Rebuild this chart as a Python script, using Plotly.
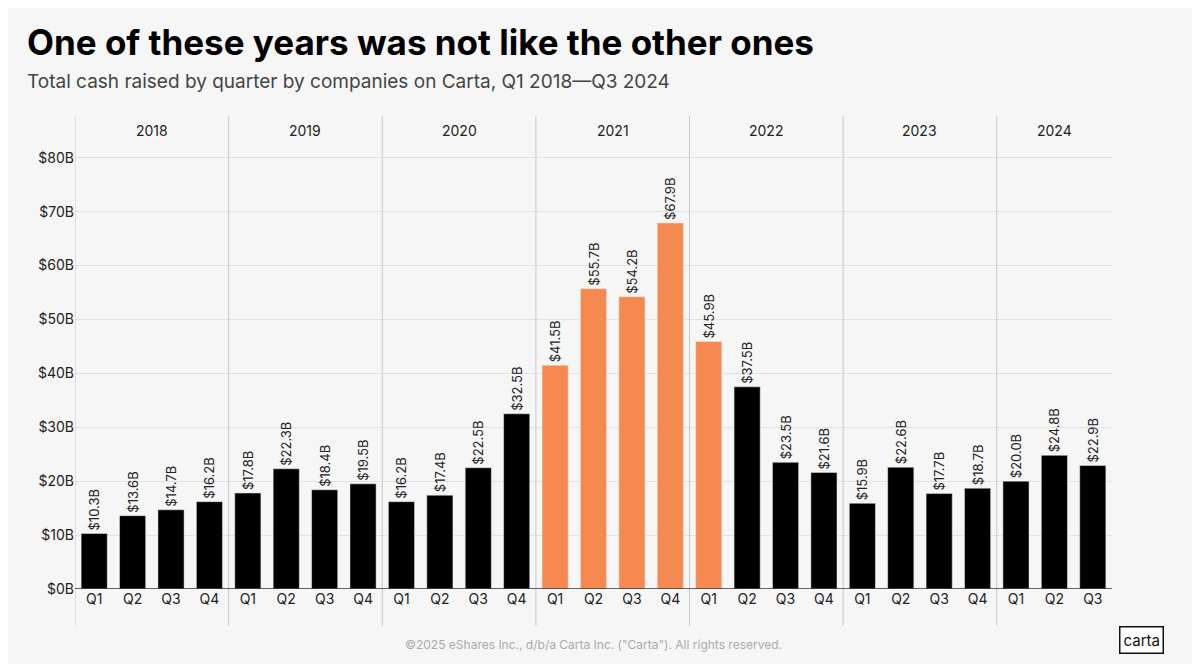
import plotly.graph_objects as go

years = ["2018"]*4 + ["2019"]*4 + ["2020"]*4 + ["2021"]*4 + ["2022"]*4 + ["2023"]*4 + ["2024"]*3
quarters = ["Q1","Q2","Q3","Q4"]*6 + ["Q1","Q2","Q3"]
values = [10.3,13.6,14.7,16.2, 17.8,22.3,18.4,19.5, 16.2,17.4,22.5,32.5,
          41.5,55.7,54.2,67.9, 45.9,37.5,23.5,21.6, 15.9,22.6,17.7,18.7, 20.0,24.8,22.9]
highlight = ["2021Q1","2021Q2","2021Q3","2021Q4","2022Q1"]
ytick_vals = [0,10,20,30,40,50,60,70,80]

x = list(range(len(values)))
colors = ["#F5894F" if f"{y}{q}" in highlight else "#000000" for y, q in zip(years, quarters)]
labels = [f"${v:.1f}B" for v in values]

fig = go.Figure(go.Bar(
    x=x, y=values, marker_color=colors, width=0.68,
    text=labels, textposition="outside", textangle=-90, constraintext="none",
    textfont=dict(family="Inter", size=13, color="#222"), cliponaxis=False,
    hoverinfo="skip"))

shapes = []
annotations = []
uniq = []
for y in years:
    if y not in uniq:
        uniq.append(y)
for i, yr in enumerate(uniq):
    idx = [k for k, v in enumerate(years) if v == yr]
    annotations.append(dict(x=(idx[0]+idx[-1])/2, y=1.08, xref="x", yref="paper",
                            text=yr, showarrow=False, font=dict(family="Inter", size=14, color="#222")))
    if i > 0:
        shapes.append(dict(type="line", x0=idx[0]-0.5, x1=idx[0]-0.5, xref="x", yref="paper",
                           y0=-0.085, y1=1.09, line=dict(color="#c8c8c8", width=1)))
shapes.append(dict(type="line", x0=-0.5, x1=-0.5, xref="x", yref="paper", y0=-0.085, y1=1.09,
                   line=dict(color="#c8c8c8", width=1)))
shapes.append(dict(type="line", x0=-0.5, x1=len(values)-0.5, xref="x", yref="y", y0=0, y1=0,
                   line=dict(color="#333", width=1.5)))

L, R, T, B = 67, 96, 147, 83
annotations += [
    dict(x=17, y=34, xref="paper", yref="paper", xanchor="left", yanchor="middle",
         text="<b>One of these years was not like the other ones</b>", showarrow=False,
         font=dict(family="Inter", size=35, color="#000")),
    dict(x=17, y=74, xref="paper", yref="paper", xanchor="left", yanchor="middle",
         text="Total cash raised by quarter by companies on Carta, Q1 2018—Q3 2024", showarrow=False,
         font=dict(family="Inter", size=19, color="#444")),
    dict(x=0.5, y=-0.15, xref="paper", yref="paper", text="©2025 eShares Inc., d/b/a Carta Inc. (\"Carta\"). All rights reserved.",
         showarrow=False, font=dict(family="Inter", size=12, color="#aaa")),
    dict(x=1.05, y=-0.15, xref="paper", yref="paper", text="carta", showarrow=False,
         font=dict(family="Inter", size=15, color="#111"), bordercolor="#111", borderwidth=1.5,
         borderpad=3, bgcolor="white"),
]
pw, ph = 1200 - L - R, 664 - T - B
for a in annotations[-4:-2]:
    a["x"] = (a["x"] - L) / pw
    a["y"] = (664 - B - a["y"]) / ph

fig.update_layout(
    width=1200, height=664,
    paper_bgcolor="#f6f6f6", plot_bgcolor="#f6f6f6",
    margin=dict(l=L, r=R, t=T, b=B),
    xaxis=dict(tickmode="array", tickvals=x, ticktext=quarters, range=[-0.5, len(values)-0.5],
               showgrid=False, tickfont=dict(family="Inter", size=14, color="#222"), ticks=""),
    yaxis=dict(tickmode="array", tickvals=ytick_vals, ticktext=[f"${v}B" for v in ytick_vals],
               range=[0, 80.5], gridcolor="#e2e2e2", zeroline=False,
               tickfont=dict(family="Inter", size=14, color="#222")),
    shapes=shapes, annotations=annotations, showlegend=False, bargap=0.3)

fig.write_html("out.html")
